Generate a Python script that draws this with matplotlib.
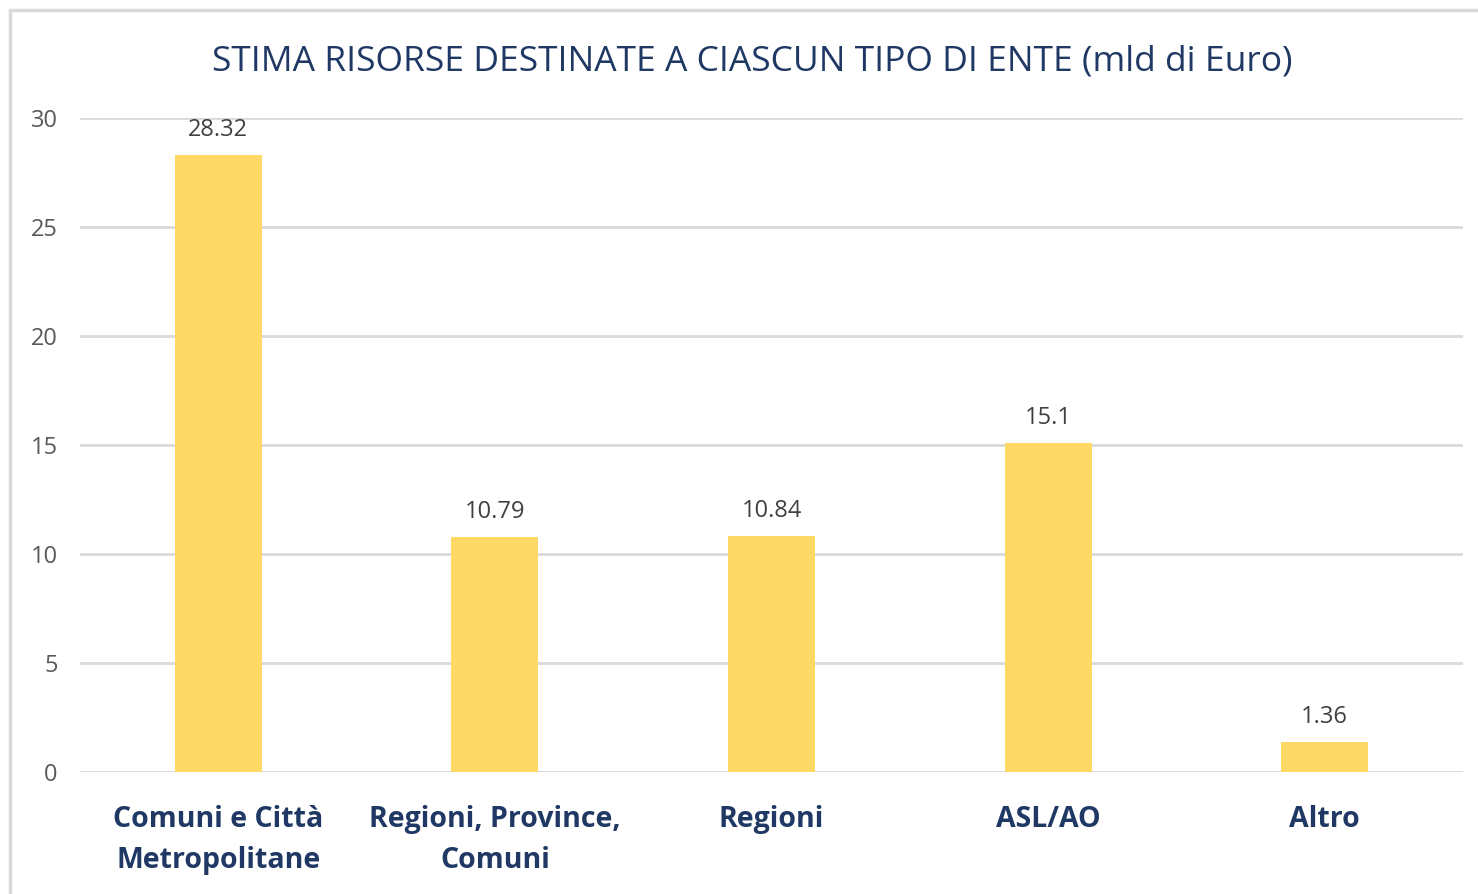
import matplotlib.pyplot as plt
from matplotlib.patches import Rectangle

# Dati
categorie = ["Comuni e Città\nMetropolitane", "Regioni, Province,\nComuni", "Regioni", "ASL/AO", "Altro"]
valori = [28.32, 10.79, 10.84, 15.1, 1.36]
etichette_valori = ["28.32", "10.79", "10.84", "15.1", "1.36"]
tick_y = [0, 5, 10, 15, 20, 25, 30]

navy = "#1F3864"
plt.rcParams['font.family'] = ['Open Sans', 'DejaVu Sans']

fig = plt.figure(figsize=(14.78, 8.94), dpi=100)
# bordo del grafico
fig.patches.append(Rectangle((10 / 1478, -0.05), 1.1, 1.05 - 10 / 894, transform=fig.transFigure,
                             fill=False, edgecolor="#d9d9d9", linewidth=2.5))

ax = fig.add_axes([80 / 1478, 122 / 894, 1383 / 1478, 654 / 894])
x = range(len(categorie))
ax.bar(x, valori, width=0.315, color="#FFD966", zorder=3)

for xi, v, t in zip(x, valori, etichette_valori):
    ax.text(xi, v + 0.6, t, ha="center", va="bottom", fontsize=17, color="#404040")

ax.set_xlim(-0.5, len(categorie) - 0.5)
ax.set_ylim(0, 30)
ax.set_yticks(tick_y)
ax.set_yticklabels([str(t) for t in tick_y], fontsize=17, color="#595959")
ax.set_xticks(list(x))
ax.set_xticklabels(categorie, fontsize=20.5, fontweight="bold", color=navy, linespacing=1.55)
ax.tick_params(axis="both", length=0)
ax.tick_params(axis="x", pad=24)
ax.tick_params(axis="y", pad=16)
ax.grid(axis="y", color="#d9d9d9", linewidth=2, zorder=0)
for s in ax.spines.values():
    s.set_visible(False)

fig.text(752 / 1478, 1 - 62 / 894, "STIMA RISORSE DESTINATE A CIASCUN TIPO DI ENTE (mld di Euro)",
         ha="center", va="center", fontsize=25.5, color=navy)

fig.savefig("out.png", dpi=100)
